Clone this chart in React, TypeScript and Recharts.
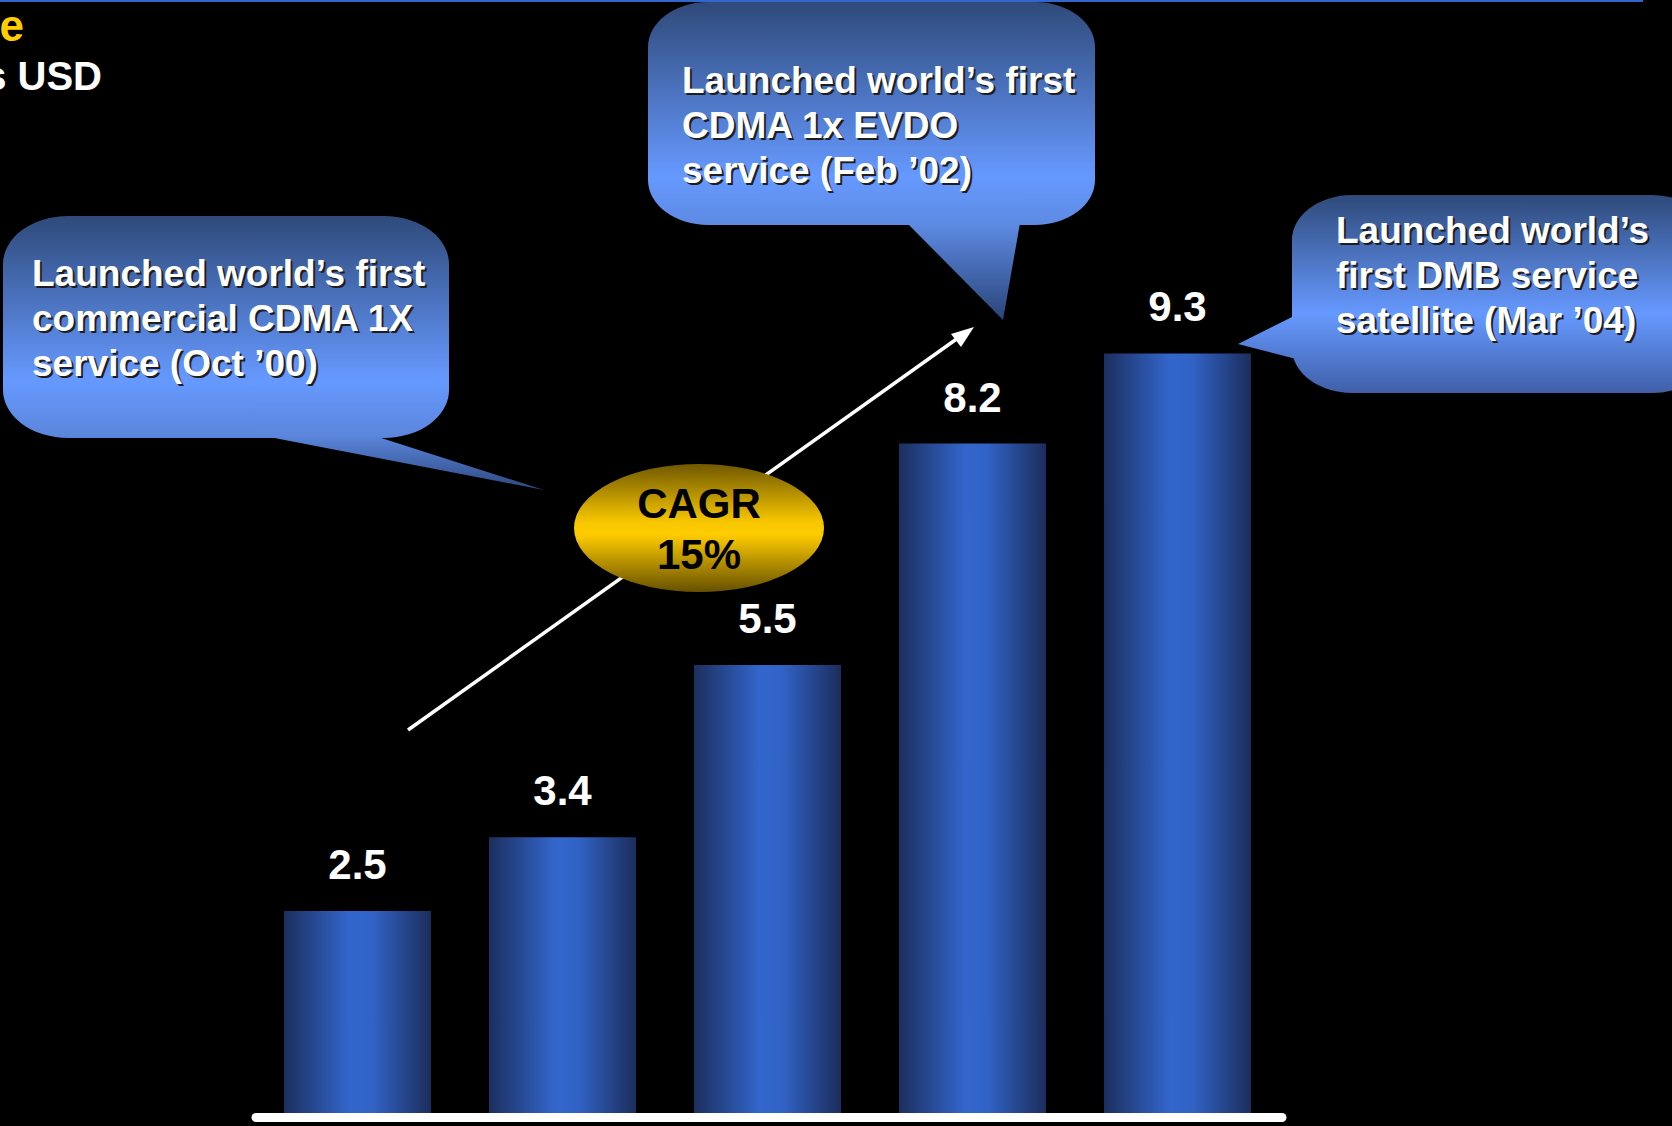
import React from "react";
import { BarChart, Bar, XAxis, YAxis, LabelList } from "recharts";

const years = ["2000", "2001", "2002", "2003", "2004"];
const revenue = [2.5, 3.4, 5.5, 8.2, 9.3];

const titleLine1 = "Revenue";
const titleLine2 = "Billions USD";

const calloutCdma1x = ["Launched world\u2019s first", "commercial CDMA 1X", "service (Oct \u201900)"];
const calloutEvdo = ["Launched world\u2019s first", "CDMA 1x EVDO", "service (Feb \u201902)"];
const calloutDmb = ["Launched world\u2019s", "first DMB service", "satellite (Mar \u201904)"];
const cagrLines = ["CAGR", "15%"];

const data = years.map((year, i) => ({ year, revenue: revenue[i] }));

const W = 1672;
const H = 1126;
const FONT = "'Liberation Sans', Arial, Helvetica, sans-serif";

function ShadowText({ x, y, lines, size, gap }) {
  return (
    <g fontFamily={FONT} fontWeight="bold" fontSize={size}>
      {lines.map((t, i) => (
        <g key={i}>
          <text x={x + 2} y={y + i * gap + 2} fill="#1e1e1e">{t}</text>
          <text x={x} y={y + i * gap} fill="#ffffff">{t}</text>
        </g>
      ))}
    </g>
  );
}

function Overlay() {
  return (
    <svg width={W} height={H} style={{ position: "absolute", left: 0, top: 0, pointerEvents: "none" }}>
      <defs>
        <linearGradient id="b1" gradientUnits="userSpaceOnUse" x1="0" y1="216" x2="0" y2="490">
          <stop offset="0" stopColor="#2f4a7a" />
          <stop offset="0.6" stopColor="#6699ff" />
          <stop offset="0.8" stopColor="#5b86dc" />
          <stop offset="1" stopColor="#2d4880" />
        </linearGradient>
        <linearGradient id="b2" gradientUnits="userSpaceOnUse" x1="0" y1="2" x2="0" y2="320">
          <stop offset="0" stopColor="#2f4a7a" />
          <stop offset="0.55" stopColor="#6699ff" />
          <stop offset="0.7" stopColor="#5d8ae2" />
          <stop offset="1" stopColor="#2a4478" />
        </linearGradient>
        <linearGradient id="b3" gradientUnits="userSpaceOnUse" x1="0" y1="195" x2="0" y2="393">
          <stop offset="0" stopColor="#2f4a7a" />
          <stop offset="0.6" stopColor="#6699ff" />
          <stop offset="1" stopColor="#3f5fa8" />
        </linearGradient>
        <linearGradient id="gold" x1="0" y1="0" x2="0" y2="1">
          <stop offset="0" stopColor="#705800" />
          <stop offset="0.45" stopColor="#f7c600" />
          <stop offset="0.55" stopColor="#ffcc00" />
          <stop offset="1" stopColor="#665000" />
        </linearGradient>
      </defs>

      <rect x={0} y={0} width={1643} height={2} fill="#3366cc" />

      <g fontFamily={FONT} fontWeight="bold" textAnchor="end">
        <text x={24} y={41} fontSize={44} fill="#ffcc00">{titleLine1}</text>
        <text x={102} y={90} fontSize={40} fill="#ffffff">{titleLine2}</text>
      </g>

      {/* callout 1 */}
      <polygon points="264,436 375,436 544,490" fill="url(#b1)" />
      <rect x={3} y={216} width={446} height={222} rx={65} ry={48} fill="url(#b1)" />
      <ShadowText x={32} y={286} lines={calloutCdma1x} size={37} gap={45} />

      {/* callout 2 */}
      <polygon points="907,223 1020,223 1003,320" fill="url(#b2)" />
      <rect x={648} y={2} width={447} height={223} rx={60} ry={45} fill="url(#b2)" />
      <ShadowText x={682} y={93} lines={calloutEvdo} size={37} gap={45} />

      {/* callout 3 */}
      <polygon points="1300,313 1300,360 1238,344" fill="url(#b3)" />
      <rect x={1292} y={195} width={420} height={198} rx={60} ry={45} fill="url(#b3)" />
      <ShadowText x={1336} y={243} lines={calloutDmb} size={37} gap={45} />

      {/* growth arrow */}
      <line x1={408} y1={730} x2={965} y2={333} stroke="#ffffff" strokeWidth={3.5} />
      <polygon points="974,327 951,334 961,347" fill="#ffffff" />

      {/* CAGR */}
      <ellipse cx={699} cy={528} rx={125} ry={64} fill="url(#gold)" />
      <g fontFamily={FONT} fontWeight="bold" fontSize={42} textAnchor="middle" fill="#000000">
        <text x={699} y={518}>{cagrLines[0]}</text>
        <text x={699} y={569}>{cagrLines[1]}</text>
      </g>

      {/* baseline */}
      <line x1={256} y1={1117.5} x2={1282} y2={1117.5} stroke="#ffffff" strokeWidth={9} strokeLinecap="round" />
    </svg>
  );
}

export default function App() {
  return (
    <div style={{ position: "fixed", left: 0, top: 0, width: W, height: H, background: "#000000", overflow: "hidden" }}>
      <div style={{ position: "absolute", left: 0, top: 0 }}>
        <BarChart width={W} height={H} data={data} margin={{ top: 296, right: 392, bottom: 10, left: 255 }} barCategoryGap={0}>
          <defs>
            <linearGradient id="barFill" x1="0" y1="0" x2="1" y2="0">
              <stop offset="0" stopColor="#1c2f5e" />
              <stop offset="0.45" stopColor="#3366cc" />
              <stop offset="0.6" stopColor="#3163c6" />
              <stop offset="1" stopColor="#1c2d5c" />
            </linearGradient>
          </defs>
          <XAxis dataKey="year" hide />
          <YAxis domain={[0, 10]} hide />
          <Bar dataKey="revenue" fill="url(#barFill)" barSize={147} isAnimationActive={false}>
            <LabelList
              dataKey="revenue"
              position="top"
              offset={32}
              fill="#ffffff"
              fontSize={42}
              fontWeight="bold"
              fontFamily={FONT}
              formatter={(v) => Number(v).toFixed(1)}
            />
          </Bar>
        </BarChart>
      </div>
      <Overlay />
    </div>
  );
}
